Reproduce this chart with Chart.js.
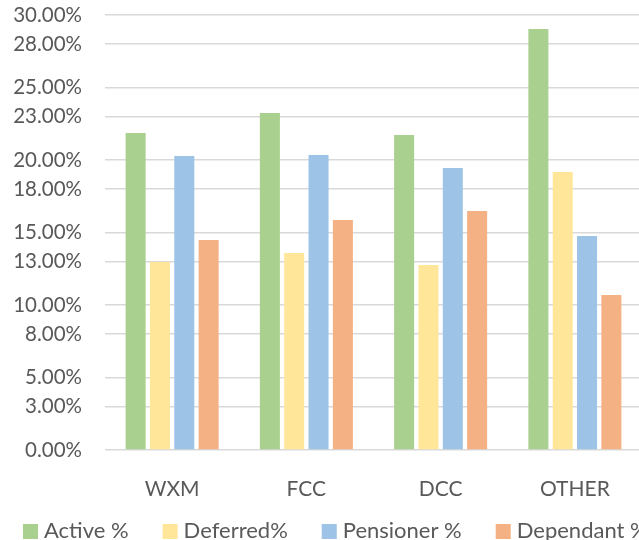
<!DOCTYPE html>
<html>
<head>
<meta charset="utf-8">
<script src="https://cdn.jsdelivr.net/npm/chart.js@4"></script>
<style>
  html, body { margin: 0; padding: 0; background: #fff; overflow: hidden; }
  #wrap { width: 642px; height: 540px; position: relative; }
</style>
</head>
<body>
<div id="wrap"><canvas id="schemeChart"></canvas></div>
<script>
// data
const categories = ['WXM', 'FCC', 'DCC', 'OTHER'];
const seriesNames = ['Active %', 'Deferred%', 'Pensioner %', 'Dependant %'];
const activeVals = [21.86, 23.24, 21.72, 29.03];
const deferredVals = [12.97, 13.59, 12.76, 19.17];
const pensionerVals = [20.28, 20.34, 19.45, 14.76];
const dependantVals = [14.48, 15.86, 16.48, 10.69];
const tickVals = [0, 3, 5, 8, 10, 13, 15, 18, 20, 23, 25, 28, 30];

const colours = ['#A9D08E', '#FFE699', '#9DC3E6', '#F4B183'];
const textGrey = '#595959';
const fontName = 'Lato';

// Excel-style legend along the bottom (runs off the right edge like the original)
const bottomLegend = {
    id: 'bottomLegend',
    afterDraw(chart) {
        const ctx = chart.ctx;
        ctx.save();
        ctx.font = '22px ' + fontName;
        ctx.textBaseline = 'alphabetic';
        let x = 23;
        chart.data.datasets.forEach(ds => {
            ctx.fillStyle = ds.backgroundColor;
            ctx.fillRect(x, 524, 15, 15);
            ctx.fillStyle = textGrey;
            ctx.fillText(ds.label, x + 21, 538);
            x += 21 + ctx.measureText(ds.label).width + 34;
        });
        ctx.restore();
    }
};

document.addEventListener('DOMContentLoaded', () => {
    const ctx = document.getElementById('schemeChart');
    const seriesVals = [activeVals, deferredVals, pensionerVals, dependantVals];

    new Chart(ctx, {
        type: 'bar',
        data: {
            labels: categories,
            datasets: seriesNames.map((name, i) => ({
                label: name,
                data: seriesVals[i],
                backgroundColor: colours[i],
                borderWidth: 0,
                categoryPercentage: 0.725,
                barPercentage: 0.823
            }))
        },
        options: {
            responsive: true,
            maintainAspectRatio: false,
            animation: false,
            layout: { padding: { top: 15, left: 0, right: 0, bottom: 0 } },
            plugins: {
                legend: { display: false },
                tooltip: { enabled: false }
            },
            scales: {
                x: {
                    grid: { display: false },
                    border: { display: false },
                    ticks: {
                        color: textGrey,
                        font: { family: fontName, size: 21 },
                        padding: 19
                    },
                    afterFit(scale) { scale.height = 90; }
                },
                y: {
                    min: 0,
                    max: 30,
                    border: { display: false },
                    grid: { color: '#d9d9d9', lineWidth: 1.5, drawTicks: false },
                    ticks: {
                        color: textGrey,
                        font: { family: fontName, size: 20.5 },
                        padding: 23,
                        callback: v => v.toFixed(2) + '%'
                    },
                    afterBuildTicks(scale) {
                        scale.ticks = tickVals.map(v => ({ value: v }));
                    },
                    afterFit(scale) {
                        scale.width = 105;
                        scale.paddingTop = 0;
                        scale.paddingBottom = 0;
                    }
                }
            }
        },
        plugins: [bottomLegend]
    });
});
</script>
</body>
</html>
